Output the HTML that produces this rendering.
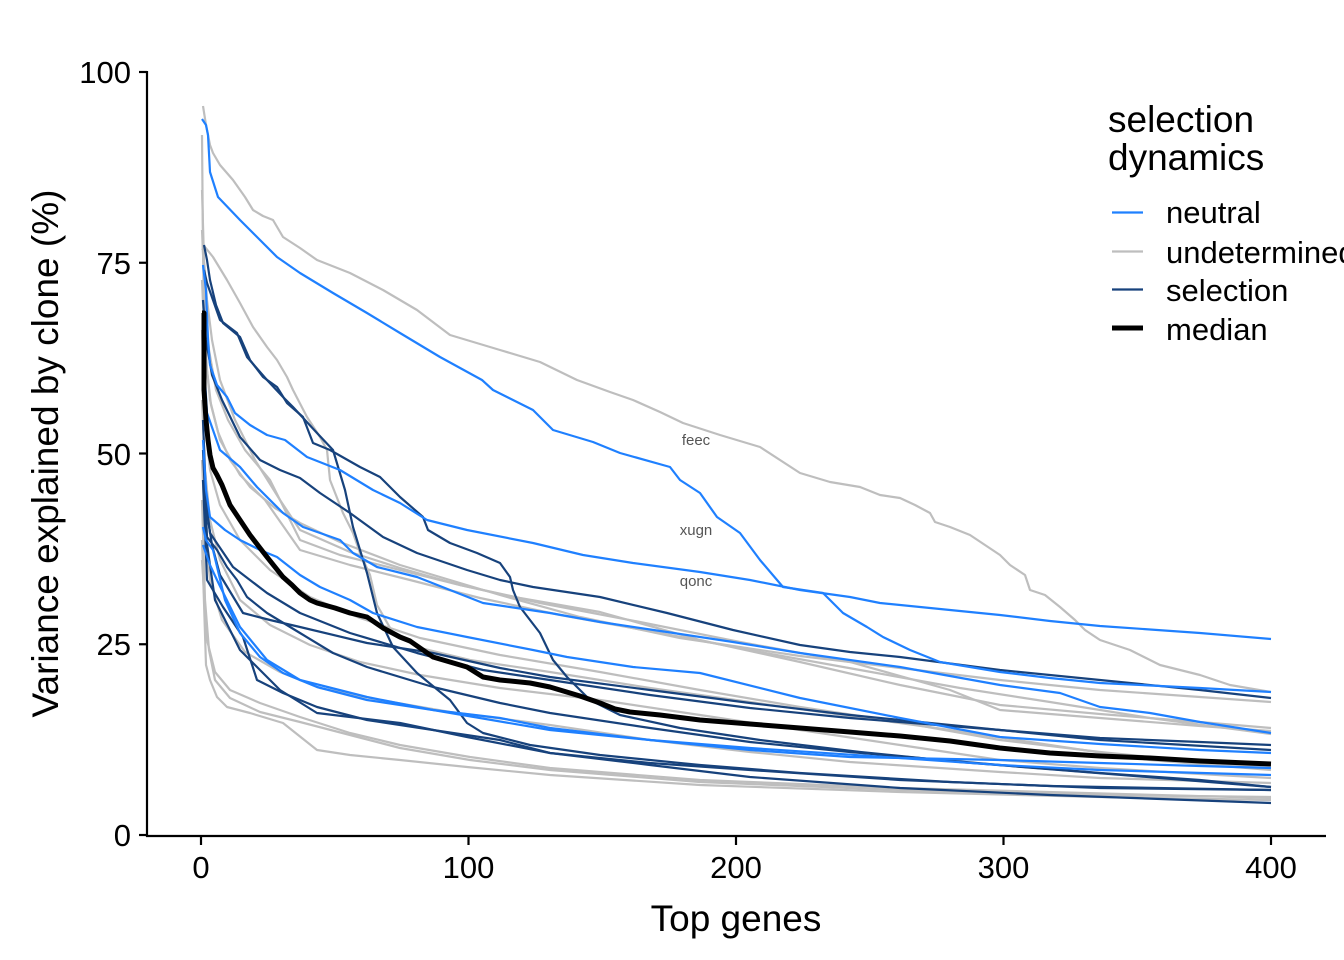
<!DOCTYPE html>
<html><head><meta charset="utf-8"><style>
html,body{margin:0;padding:0;background:#fff;overflow:hidden;}
svg{display:block;}
text{font-family:"Liberation Sans",Arial,sans-serif;}
</style></head><body>
<svg width="1344" height="960" viewBox="0 0 1344 960" xmlns="http://www.w3.org/2000/svg">
<rect width="1344" height="960" fill="#fff"/>
<g fill="none" stroke-linejoin="round" stroke-linecap="butt" stroke-width="2.2">
<!-- undetermined -->
<g stroke="#bebebe">
<polyline points="203,106 206,125 210,145 213,153 220,165 233,180 245,197 253,210 263,216 273,220 283,237 300,248 317,260 350,273 383,290 417,310 450,335 500,350 540,362 577,380 610,392 633,400 660,412 683,423 720,435 760,447 800,473 830,482 860,487 880,495 900,498 915,505 930,513 935,522 950,527 970,535 985,545 1000,555 1010,565 1025,575 1030,590 1045,595 1060,607 1075,620 1085,630 1100,640 1130,650 1160,665 1200,675 1230,685 1271,692"/>
<polyline points="202,135 203,250 204,320 207,370 211,405 218,432 230,460 250,487 275,508 300,523 340,542 400,565 450,580 500,595 580,617 680,638 800,656 900,668 1000,680 1100,690 1200,697 1271,702"/>
<polyline points="202,250 205,247 213,257 227,280 240,303 253,327 267,347 277,360 287,377 293,390 307,417 320,437 327,450 330,480 343,513 353,533 360,553 370,575 377,605 393,633 420,648 470,660 550,672 650,688 750,702 850,716 950,730 1050,745 1150,760 1271,770"/>
<polyline points="202,190 204,260 207,300 212,340 220,380 235,420 255,460 280,500 300,530 350,552 400,568 460,585 520,598 600,612 700,640 800,662 900,685 1000,705 1100,714 1200,722 1271,728"/>
<polyline points="202,230 205,300 209,350 216,390 228,420 245,450 270,480 300,540 340,555 400,570 460,585 540,603 640,622 740,642 850,662 950,690 1000,710 1100,718 1200,726 1271,731"/>
<polyline points="202,280 205,350 210,400 220,440 240,475 265,500 300,550 350,565 410,580 480,598 560,615 660,633 760,652 860,670 960,688 1050,702 1150,718 1271,734"/>
<polyline points="202,330 205,420 210,470 220,505 240,540 270,570 310,597 360,618 420,638 500,655 600,672 700,690 800,707 900,722 1000,740 1100,752 1200,762 1271,768"/>
<polyline points="202,400 205,470 210,520 220,560 240,600 270,625 310,645 360,662 420,675 500,688 600,700 700,715 800,730 900,745 1000,760 1100,768 1200,774 1271,778"/>
<polyline points="202,460 205,530 210,580 222,620 245,652 280,672 320,688 380,700 450,712 550,725 650,740 750,752 850,762 1000,772 1100,778 1271,783"/>
<polyline points="202,500 205,600 209,650 215,680 230,698 260,712 300,722 350,735 400,748 470,760 550,770 700,782 900,790 1100,795 1271,797"/>
<polyline points="202,540 206,665 210,680 217,697 227,707 250,713 283,723 317,750 350,755 400,760 467,767 550,775 700,785 900,792 1100,797 1271,800"/>
<polyline points="202,560 207,640 215,672 230,690 260,703 300,717 350,733 400,745 470,757 550,768 700,780 900,788 1271,798"/>
</g>
<!-- selection -->
<g stroke="#17427c">
<polyline points="204,245 207,260 210,280 216,305 223,323 240,337 250,360 263,377 277,387 287,403 303,417 313,443 330,450 360,467 380,477 400,497 423,517 428,530 450,543 477,553 500,563 510,577 513,590 520,607 540,633 553,660 567,677 590,700 620,715 680,728 760,740 860,752 960,762 1060,770 1160,778 1271,787"/>
<polyline points="204,270 207,283 220,320 237,333 247,357 267,380 283,397 293,407 317,433 333,450 345,490 353,527 367,573 377,613 393,647 417,673 450,700 467,723 483,733 530,745 600,755 700,765 800,773 950,782 1100,788 1271,790"/>
<polyline points="203,300 206,340 212,375 222,400 240,437 260,460 280,470 300,478 320,493 350,513 383,537 417,553 467,570 500,580 533,587 600,597 667,613 733,630 800,645 850,652 900,657 1000,670 1100,680 1200,690 1271,698"/>
<polyline points="203,420 206,500 210,533 233,567 267,593 300,613 350,633 417,653 483,670 550,680 650,695 750,708 850,718 1000,730 1100,738 1200,742 1271,745"/>
<polyline points="203,450 207,537 217,550 227,567 237,580 247,597 267,613 300,633 333,653 367,667 433,687 500,703 550,713 650,728 750,742 850,752 1000,765 1100,773 1200,780 1271,787"/>
<polyline points="203,480 207,580 223,607 243,637 257,680 283,693 317,707 367,720 433,730 500,740 550,753 650,765 750,777 900,788 1050,795 1271,803"/>
<polyline points="205,500 212,545 220,575 243,613 270,620 300,627 367,643 433,653 500,668 550,677 650,690 750,703 850,715 1000,730 1100,740 1271,750"/>
<polyline points="205,530 215,600 240,650 280,690 317,713 400,723 467,737 550,753 650,763 750,770 900,780 1050,786 1271,790"/>
</g>
<!-- neutral -->
<g stroke="#1f80ff">
<polyline points="202,119 206,125 208,135 210,172 218,197 240,220 253,233 263,243 277,257 300,273 333,293 367,313 400,333 440,357 482,380 493,390 533,410 553,430 593,442 620,453 670,467 680,480 700,493 717,517 740,533 760,560 783,587 823,593 843,613 867,627 883,637 910,650 940,662 1000,672 1050,678 1100,683 1200,688 1271,692"/>
<polyline points="203,265 206,290 208,340 210,365 217,385 227,397 235,413 250,425 267,435 285,440 307,457 340,470 373,490 400,503 427,520 467,530 533,543 583,555 633,563 700,572 750,580 800,590 850,597 880,603 950,610 1000,615 1050,621 1100,626 1200,633 1271,639"/>
<polyline points="203,330 205,380 207,413 220,450 240,467 257,487 283,513 303,527 340,540 353,553 377,567 417,577 450,590 483,603 550,613 600,622 667,632 733,642 800,653 900,667 1000,685 1060,693 1100,707 1150,713 1200,722 1271,733"/>
<polyline points="203,440 206,490 210,517 225,530 240,540 260,550 277,557 300,575 320,587 350,600 373,613 417,627 467,637 533,650 567,657 633,667 700,673 800,698 900,718 1000,737 1100,744 1200,750 1271,753"/>
<polyline points="203,527 206,540 213,550 225,600 240,633 260,657 283,673 317,687 367,700 433,710 500,718 550,728 650,740 750,750 850,757 1000,760 1100,763 1200,766 1271,768"/>
<polyline points="203,545 210,565 217,580 240,627 267,660 300,680 367,697 433,710 550,730 650,740 750,748 900,758 1000,765 1100,770 1271,775"/>
</g>
<!-- median -->
<polyline stroke="#000" stroke-width="5" points="202,313 204,313 204,390 206,420 208,440 210,455 213,468 217,475 222,485 230,505 240,520 250,535 260,548 267,557 275,567 283,577 292,585 300,593 310,600 317,603 335,608 350,613 367,617 383,628 400,637 410,641 433,657 450,662 467,667 483,677 500,680 530,683 550,687 580,696 600,703 615,709 630,712 660,715 700,720 750,724 800,728 850,732 900,736 950,741 1000,748 1050,753 1100,756 1150,758 1200,761 1271,764"/>
</g>
<!-- annotations -->
<g font-size="15" fill="#555" text-anchor="middle">
<text x="696" y="445">feec</text>
<text x="696" y="535">xugn</text>
<text x="696" y="586">qonc</text>
</g>
<!-- axes -->
<g stroke="#000" stroke-width="2.2" fill="none">
<line x1="147" y1="71" x2="147" y2="837"/>
<line x1="146" y1="836" x2="1326" y2="836"/>
<line x1="139" y1="72" x2="147" y2="72"/>
<line x1="139" y1="262.75" x2="147" y2="262.75"/>
<line x1="139" y1="453.5" x2="147" y2="453.5"/>
<line x1="139" y1="644.25" x2="147" y2="644.25"/>
<line x1="139" y1="835" x2="147" y2="835"/>
<line x1="201" y1="836" x2="201" y2="845"/>
<line x1="468.5" y1="836" x2="468.5" y2="845"/>
<line x1="736" y1="836" x2="736" y2="845"/>
<line x1="1003.5" y1="836" x2="1003.5" y2="845"/>
<line x1="1271" y1="836" x2="1271" y2="845"/>
</g>
<g font-size="31" fill="#000" text-anchor="end">
<text x="131" y="83">100</text>
<text x="131" y="274">75</text>
<text x="131" y="465">50</text>
<text x="131" y="655">25</text>
<text x="131" y="846">0</text>
</g>
<g font-size="31" fill="#000" text-anchor="middle">
<text x="201" y="878">0</text>
<text x="468.5" y="878">100</text>
<text x="736" y="878">200</text>
<text x="1003.5" y="878">300</text>
<text x="1271" y="878">400</text>
</g>
<text x="736" y="931" font-size="37" text-anchor="middle" fill="#000">Top genes</text>
<text transform="translate(58,453.5) rotate(-90)" font-size="37" text-anchor="middle" fill="#000">Variance explained by clone (%)</text>
<!-- legend -->
<g fill="#000">
<text x="1108" y="132" font-size="37">selection</text>
<text x="1108" y="170" font-size="37">dynamics</text>
<g font-size="31">
<text x="1166" y="223">neutral</text>
<text x="1166" y="263">undetermined</text>
<text x="1166" y="301">selection</text>
<text x="1166" y="340">median</text>
</g>
</g>
<g stroke-width="2.2">
<line x1="1112" y1="212.5" x2="1143" y2="212.5" stroke="#1f80ff"/>
<line x1="1112" y1="251.5" x2="1143" y2="251.5" stroke="#bebebe"/>
<line x1="1112" y1="289.5" x2="1143" y2="289.5" stroke="#17427c"/>
<line x1="1112" y1="328" x2="1143" y2="328" stroke="#000" stroke-width="5"/>
</g>
</svg>
</body></html>
